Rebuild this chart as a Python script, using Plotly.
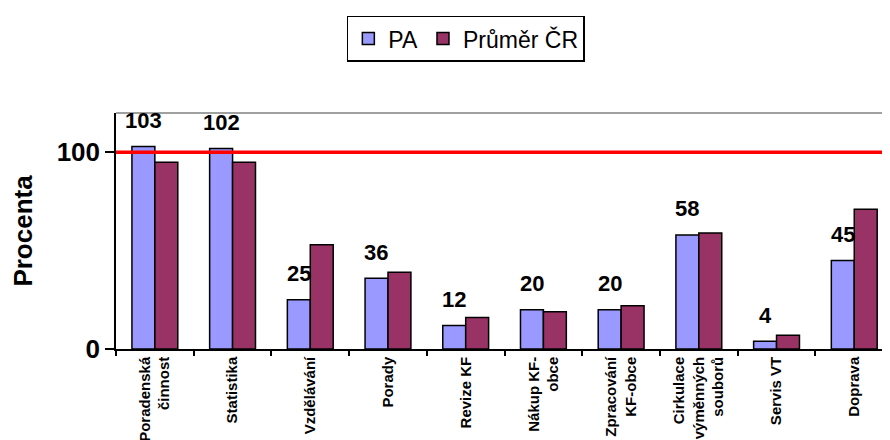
import plotly.graph_objects as go

categories = ["Poradenská<br>činnost", "Statistika", "Vzdělávání", "Porady", "Revize KF",
              "Nákup KF-<br>obce", "Zpracování<br>KF-obce", "Cirkulace<br>výměnných<br>souborů",
              "Servis VT", "Doprava"]
pa_values = [103, 102, 25, 36, 12, 20, 20, 58, 4, 45]
cr_values = [95, 95, 53, 39, 16, 19, 22, 59, 7, 71]
reference_level = 100
y_ticks = [0, 100]

FONT = "Liberation Sans, Arial, sans-serif"

fig = go.Figure()
fig.add_trace(go.Bar(name="PA", x=categories, y=pa_values,
                     marker=dict(color="#9999FF", line=dict(color="black", width=1.5))))
fig.add_trace(go.Bar(name="Průměr ČR", x=categories, y=cr_values,
                     marker=dict(color="#993366", line=dict(color="black", width=1.5))))

for cat, v in zip(categories, pa_values):
    fig.add_annotation(x=cat, y=v, text=f"<b>{v}</b>", showarrow=False,
                       xshift=-11.5, yshift=26, yanchor="middle",
                       font=dict(family=FONT, size=22, color="black"))

fig.add_shape(type="line", xref="paper", yref="y", x0=0, x1=1,
              y0=reference_level, y1=reference_level,
              line=dict(color="#FF0000", width=3.5))
fig.add_shape(type="line", xref="paper", yref="paper", x0=0, x1=1, y0=1, y1=1,
              line=dict(color="#808080", width=1.5))

fig.update_layout(
    width=890, height=440,
    margin=dict(l=108, r=8, t=103, b=99),
    plot_bgcolor="white", paper_bgcolor="white",
    barmode="group", bargap=0.41, bargroupgap=0,
    font=dict(family=FONT, color="black"),
    legend=dict(orientation="h", x=0.452, xanchor="center", y=1.315, yanchor="middle",
                bordercolor="black", borderwidth=1.5,
                font=dict(family=FONT, size=23, color="black"),
                itemwidth=30, tracegroupgap=0),
    xaxis=dict(range=[-0.5, 9.46], tickson="boundaries", ticks="outside", ticklen=5,
               tickcolor="black", tickwidth=1.5, showline=True, linecolor="black",
               linewidth=1.5, tickangle=-90, automargin=False,
               tickvals=categories, ticktext=[f"<b>{c}</b>" for c in categories],
               tickfont=dict(family=FONT, size=15, color="black"), showgrid=False),
    yaxis=dict(range=[0, 120], tickvals=y_ticks, ticktext=[f"<b>{t}</b>" for t in y_ticks],
               ticks="outside", ticklen=9, tickcolor="black", tickwidth=1.5,
               showline=True, linecolor="black", linewidth=1.5, showgrid=False,
               zeroline=False, automargin=False,
               tickfont=dict(family=FONT, size=26, color="black"),
               title=dict(text="<b>Procenta</b>", font=dict(family=FONT, size=26, color="black"),
                          standoff=18)),
)

fig.write_html("out.html")
